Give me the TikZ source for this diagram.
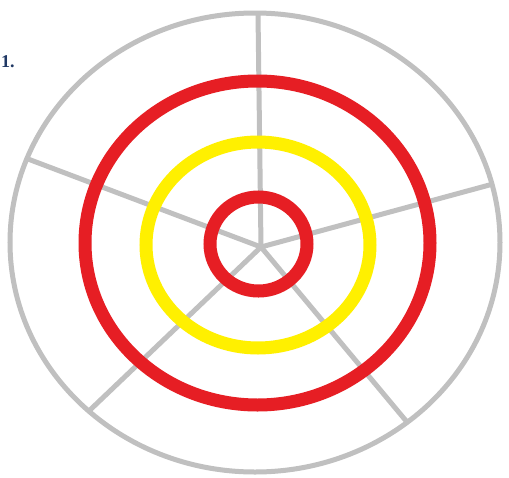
\documentclass[tikz,border=0pt]{standalone}
\usepackage{fontspec}
\newfontfamily\labelfont{Liberation Serif}
\definecolor{spokegray}{RGB}{192,192,192}
\definecolor{ringred}{RGB}{230,30,36}
\definecolor{ringyellow}{RGB}{255,240,0}
\definecolor{labelblue}{RGB}{31,56,100}
\tikzset{
  grayline/.style={draw=spokegray, line width=5pt},
  redring/.style={draw=ringred, line width=13pt},
  yellowring/.style={draw=ringyellow, line width=13pt},
}
\begin{document}
\begin{tikzpicture}[x=1pt,y=-1pt]
\useasboundingbox[fill=white] (0,0) rectangle (509,477);
\begin{scope}
\clip (0,0) rectangle (509,477);
% centre and spoke ends
\coordinate (c) at (261,247);
\coordinate (s1) at (258,13);
\coordinate (s2) at (493,184);
\coordinate (s3) at (407,422);
\coordinate (s4) at (90,410);
\coordinate (s5) at (28,159);
% spokes
\draw[grayline] (c) -- (s1);
\draw[grayline] (c) -- (s2);
\draw[grayline] (c) -- (s3);
\draw[grayline] (c) -- (s4);
\draw[grayline] (c) -- (s5);
% outer gray circle
\draw[grayline] (255,242.5) ellipse [x radius=245, y radius=229.5];
% rings
\draw[redring] (257.5,243) ellipse [x radius=172.5, y radius=162];
\draw[yellowring] (258,245) ellipse [x radius=112, y radius=103];
\draw[redring] (258.5,244) ellipse [x radius=48.5, y radius=47];
% label
\node[anchor=base west, inner sep=0pt, text=labelblue, font=\labelfont\bfseries\fontsize{18}{20}\selectfont] (lbl) at (1,67) {1.};
\end{scope}
\end{tikzpicture}
\end{document}
